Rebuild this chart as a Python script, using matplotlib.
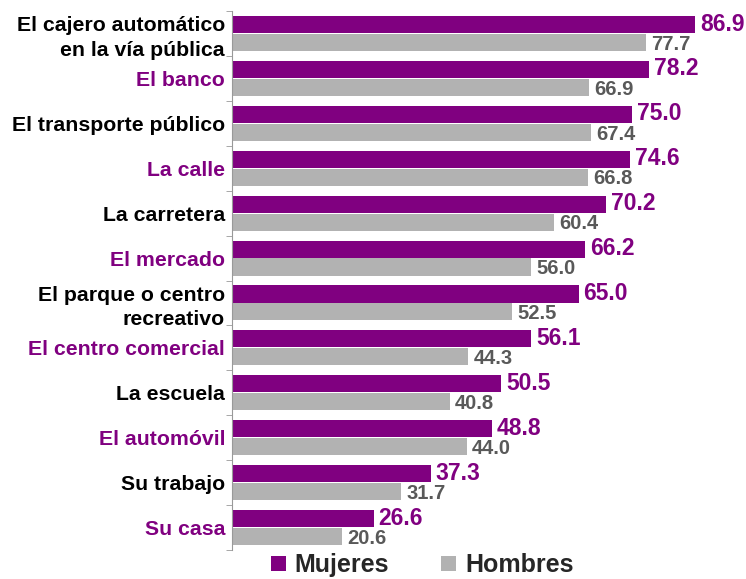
import matplotlib.pyplot as plt
import numpy as np

plt.rcParams['font.family'] = ['Liberation Sans', 'DejaVu Sans']

categories = ['El cajero automático\nen la vía pública', 'El banco', 'El transporte público',
              'La calle', 'La carretera', 'El mercado', 'El parque o centro\nrecreativo',
              'El centro comercial', 'La escuela', 'El automóvil', 'Su trabajo', 'Su casa']
mujeres = [86.9, 78.2, 75.0, 74.6, 70.2, 66.2, 65.0, 56.1, 50.5, 48.8, 37.3, 26.6]
hombres = [77.7, 66.9, 67.4, 66.8, 60.4, 56.0, 52.5, 44.3, 40.8, 44.0, 31.7, 20.6]

purple = '#800080'
gray = '#b2b2b2'
label_colors = ['black', purple] * 6

fig = plt.figure(figsize=(7.46, 5.79), dpi=100)
ax = fig.add_axes([232 / 746, 1 - 550 / 579, 1 - 232 / 746, 539 / 579])

y = np.arange(len(categories))
h = 0.38
ax.barh(y - 0.2, mujeres, height=h, color=purple, label='Mujeres')
ax.barh(y + 0.2, hombres, height=h, color=gray, label='Hombres')

for yi, m, w in zip(y, mujeres, hombres):
    ax.text(m + 0.9, yi - 0.21, f'{m:.1f}', color=purple, fontsize=16.5, fontweight='bold',
            va='center', ha='left')
    ax.text(w + 1.0, yi + 0.24, f'{w:.1f}', color='#595959', fontsize=14.5, fontweight='bold',
            va='center', ha='left')

ax.set_xlim(0, 96.4)
ax.set_ylim(len(categories) - 0.5, -0.5)
ax.set_xticks([])
ax.set_yticks(y)
ax.set_yticklabels(categories, fontsize=15.3, fontweight='bold', ha='right', linespacing=1.35)
for lbl, c in zip(ax.get_yticklabels(), label_colors):
    lbl.set_color(c)
ax.tick_params(axis='y', length=0, pad=5)
ax.set_yticks(np.arange(len(categories) + 1) - 0.5, minor=True)
ax.tick_params(axis='y', which='minor', length=4, color='#999999')

for s in ['top', 'right', 'bottom']:
    ax.spines[s].set_visible(False)
ax.spines['left'].set_color('#999999')

leg = fig.legend(loc='lower center', bbox_to_anchor=(0.566, -0.036), ncol=2, frameon=False,
                 handlelength=0.6, handleheight=0.6, columnspacing=2.1,
                 handletextpad=0.35, prop={'weight': 'bold', 'size': 18})
for t in leg.get_texts():
    t.set_color('#262626')

fig.savefig('out.png', dpi=100)
